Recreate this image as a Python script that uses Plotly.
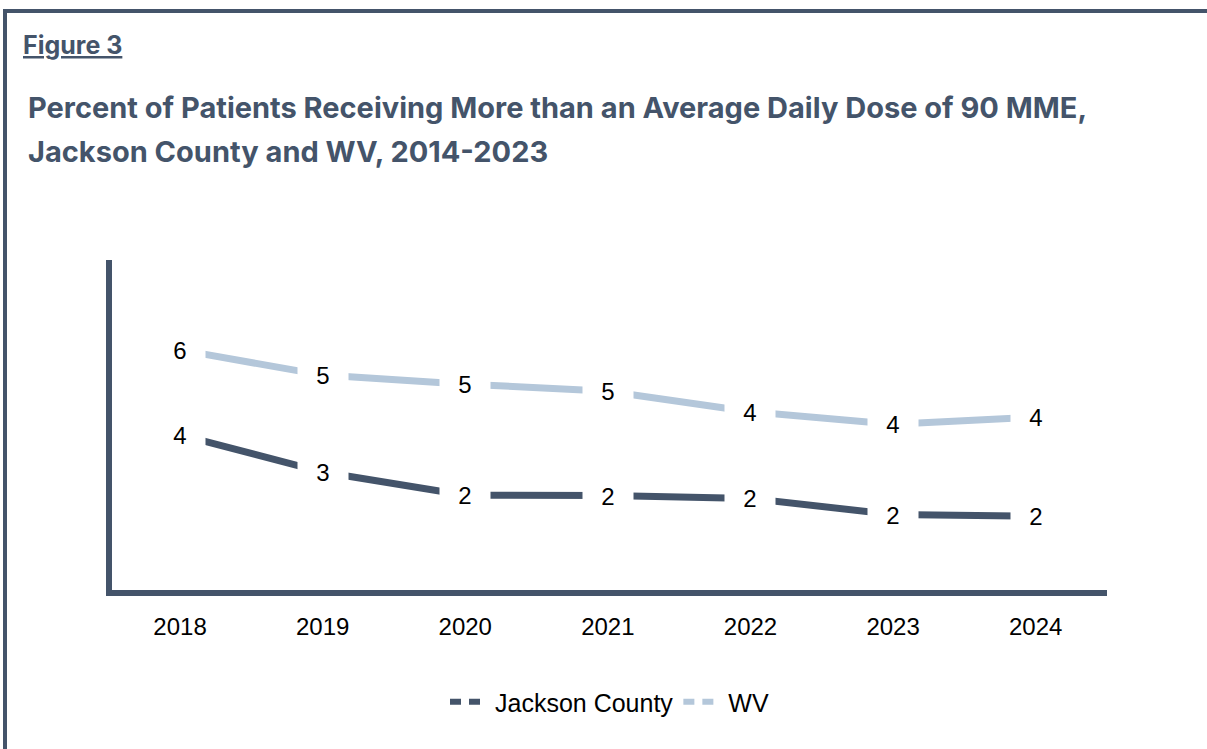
import plotly.graph_objects as go

years = ["2018", "2019", "2020", "2021", "2022", "2023", "2024"]
jackson = [3.76, 2.86, 2.30, 2.29, 2.22, 1.83, 1.79]
wv = [5.82, 5.21, 4.99, 4.82, 4.32, 4.02, 4.19]

DARK = "#44546A"
LIGHT = "#B4C7DA"
W, H = 1207, 749
L, R, T, B = 112, 100, 260, 159
PW, PH = W - L - R, H - T - B
FONT = "Liberation Sans, Arial"


def px(x):
    return (x - L) / PW


def py(y):
    return (H - B - y) / PH


fig = go.Figure()
fig.add_trace(go.Scatter(x=years, y=jackson, mode="lines", name="Jackson County",
                         line=dict(color=DARK, width=7), showlegend=False))
fig.add_trace(go.Scatter(x=years, y=wv, mode="lines", name="WV",
                         line=dict(color=LIGHT, width=7), showlegend=False))
# legend entries (dashed look like the original's legend)
fig.add_trace(go.Scatter(x=[None], y=[None], mode="lines", name="Jackson County",
                         line=dict(color=DARK, width=6, dash="11px,8px,11px,40px")))
fig.add_trace(go.Scatter(x=[None], y=[None], mode="lines", name="WV",
                         line=dict(color=LIGHT, width=6, dash="11px,8px,11px,40px")))

annotations = []
for series in (jackson, wv):
    for i, v in enumerate(series):
        annotations.append(dict(x=i, y=v, xref="x", yref="y", text=f"{v:.0f}",
                                showarrow=False, bgcolor="white", width=48, height=32,
                                font=dict(family=FONT, size=24, color="black")))

annotations.append(dict(x=px(21), y=py(45), xref="paper", yref="paper", xanchor="left",
                        yanchor="middle", showarrow=False, text="<u><b>Figure 3</b></u>",
                        font=dict(family="Inter", size=25, color=DARK)))
annotations.append(dict(x=px(26), y=py(107), xref="paper", yref="paper", xanchor="left",
                        yanchor="middle", showarrow=False,
                        text="<b>Percent of Patients Receiving More than an Average Daily Dose of 90 MME,</b>",
                        font=dict(family="Inter", size=29, color=DARK)))
annotations.append(dict(x=px(26), y=py(151), xref="paper", yref="paper", xanchor="left",
                        yanchor="middle", showarrow=False,
                        text="<b>Jackson County and WV, 2014-2023</b>",
                        font=dict(family="Inter", size=29, color=DARK)))

shapes = [
    dict(type="line", xref="paper", yref="paper", x0=px(3), x1=px(1210), y0=py(11), y1=py(11),
         line=dict(color=DARK, width=4)),
    dict(type="line", xref="paper", yref="paper", x0=px(5), x1=px(5), y0=py(9), y1=py(760),
         line=dict(color=DARK, width=4)),
]

fig.update_layout(
    width=W, height=H,
    margin=dict(l=L, r=R, t=T, b=B),
    paper_bgcolor="white", plot_bgcolor="white",
    annotations=annotations, shapes=shapes,
    showlegend=True,
    legend=dict(orientation="h", x=0.5, xanchor="center", y=py(702), yanchor="middle",
                font=dict(family=FONT, size=25, color="black"),
                itemwidth=40),
    xaxis=dict(type="category", range=[-0.477, 6.5], showline=True, linecolor=DARK, linewidth=6,
               showgrid=False, zeroline=False, ticks="", ticklabelstandoff=10,
               tickfont=dict(family=FONT, size=24, color="black")),
    yaxis=dict(range=[0, 8], showline=True, linecolor=DARK, linewidth=6, showgrid=False,
               zeroline=False, showticklabels=False, ticks=""),
)

fig.write_html("out.html", config={"displayModeBar": False},
               post_script="document.body.style.margin='0';")
